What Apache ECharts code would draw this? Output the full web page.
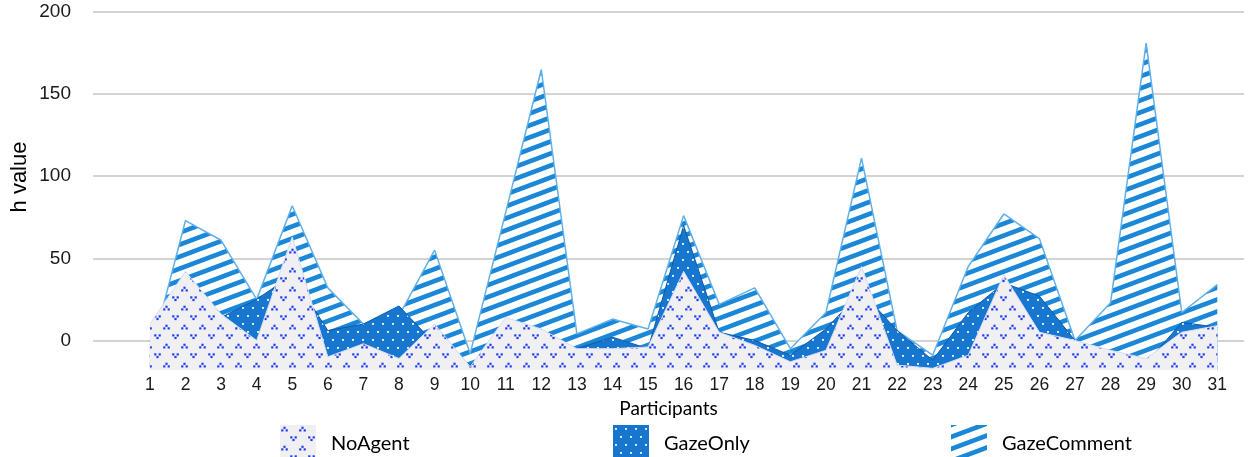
<!DOCTYPE html>
<html>
<head>
<meta charset="utf-8">
<script src="https://cdn.jsdelivr.net/npm/echarts@6/dist/echarts.min.js"></script>
<style>
html,body{margin:0;padding:0;background:#fff;}
#chart{width:1252px;height:457px;}
</style>
</head>
<body>
<div id="chart"></div>
<script>
const participants = [1,2,3,4,5,6,7,8,9,10,11,12,13,14,15,16,17,18,19,20,21,22,23,24,25,26,27,28,29,30,31];
const noAgent     = [10,42,16,0,63,-10,-2,-11,10,-16,14,7,-5,-5,-4,42,5,-3,-13,-6,45,-15,-17,-9,40,5,0,-6,-11,5,9];
const gazeOnly    = [0,30,14,25,40,6,10,21,-2,-15,5,0,-5,2,-5,70,5,0,-9,7,30,6,-12,17,35,27,0,-8,-14,11,8];
const gazeComment = [-10,73,61,25,82,32,10,15,55,-8,78,165,4,13,7,76,22,32,-5,17,111,6,-9,45,77,62,0,23,181,17,34];
const yTickValues = [0,50,100,150,200];
const seriesNames = ['NoAgent','GazeOnly','GazeComment'];

function pairs(vals){ return participants.map((p,i)=>[p, vals[i]]); }

function noAgentPattern(){
  const c=document.createElement('canvas'); c.width=18; c.height=19;
  const g=c.getContext('2d');
  g.fillStyle='#f0f0f2'; g.fillRect(0,0,18,19);
  g.fillStyle='#1e3cf2';
  const d=(x,y)=>g.fillRect(x-1.1,y-1.1,2.2,2.2);
  d(4.5,2.8); d(2.3,5.4); d(6.7,5.4);
  d(11.3,12.4); d(15.7,12.4); d(13.5,15);
  return {image:c, repeat:'repeat'};
}
function gazeOnlyPattern(){
  const c=document.createElement('canvas'); c.width=10; c.height=16;
  const g=c.getContext('2d');
  g.fillStyle='#1676d0'; g.fillRect(0,0,10,16);
  g.fillStyle='#eef5ff';
  g.fillRect(2,3,2,1.8); g.fillRect(7,11,2,1.8);
  return {image:c, repeat:'repeat'};
}
function gazeCommentPattern(){
  const W=32,H=12;
  const c=document.createElement('canvas'); c.width=W; c.height=H;
  const g=c.getContext('2d');
  g.fillStyle='#ffffff'; g.fillRect(0,0,W,H);
  g.strokeStyle='#1a87d8'; g.lineWidth=4.6;
  for(let k=-2;k<=2;k++){
    g.beginPath(); g.moveTo(-W,2*H+k*H); g.lineTo(2*W,-H+k*H); g.stroke();
  }
  return {image:c, repeat:'repeat'};
}
const pats=[noAgentPattern(), gazeOnlyPattern(), gazeCommentPattern()];
const lineColors=['#d5dbf6','#0d5aa6','#5fb0ea'];
const values=[noAgent, gazeOnly, gazeComment];
const zs=[4,3,2];

const chart=echarts.init(document.getElementById('chart'),null,{renderer:'canvas'});
const legendLefts=[275,608,946];
chart.setOption({
  animation:false,
  backgroundColor:'#ffffff',
  grid:{left:93,right:8,top:12,bottom:87,containLabel:false},
  xAxis:{
    type:'value', min:-0.6, max:31.75,
    name:'Participants', nameLocation:'middle', nameGap:26,
    nameTextStyle:{fontFamily:'Lato',fontSize:19,color:'#000'},
    axisLine:{show:false}, axisTick:{show:false, customValues:participants},
    splitLine:{show:false},
    axisLabel:{customValues:participants, margin:6, fontFamily:'Liberation Sans', fontSize:17.5, color:'#1a1a1a'}
  },
  yAxis:{
    type:'value', min:-18, max:200,
    axisLine:{show:false}, axisTick:{show:false, customValues:yTickValues},
    axisLabel:{customValues:yTickValues, margin:22, fontFamily:'Liberation Sans', fontSize:19, color:'#1a1a1a'},
    splitLine:{show:true, lineStyle:{color:'#d3d3d3', width:2}}
  },
  graphic:[{type:'text', x:20, y:177, rotation:Math.PI/2,
    style:{text:'h value', align:'center', verticalAlign:'middle', fontFamily:'Liberation Sans', fontSize:22, fill:'#000'}}],
  legend: seriesNames.map((n,i)=>({
    data:[{name:n, icon:'rect', itemStyle:{color:pats[i], borderWidth:0}}],
    left:legendLefts[i], top:420, itemWidth:36, itemHeight:37,
    textStyle:{fontFamily:'Lato', fontSize:20, color:'#000', padding:[0,0,0,10]},
    selectedMode:false
  })),
  series: seriesNames.map((n,i)=>({
    name:n, type:'line', data:pairs(values[i]), z:zs[i],
    symbol:'none', smooth:false,
    lineStyle:{color:lineColors[i], width:i===2?1.5:1},
    itemStyle:{color:lineColors[i]},
    areaStyle:{color:pats[i], opacity:1, origin:'start'},
    emphasis:{disabled:true}
  }))
});
</script>
</body>
</html>
